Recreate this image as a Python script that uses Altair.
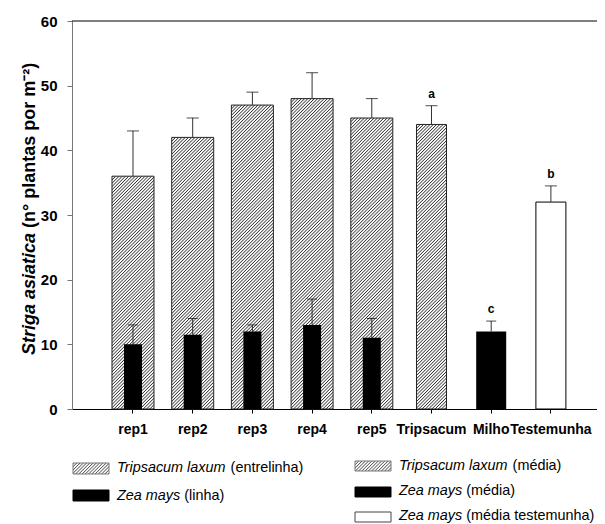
import base64
import altair as alt
import pandas as pd

# ---------------- data ----------------
categories = ["rep1", "rep2", "rep3", "rep4", "rep5", "Tripsacum", "Milho", "Testemunha"]
rep_labels = ["rep1", "rep2", "rep3", "rep4", "rep5"]
tripsacum_rep = [36, 42, 47, 48, 45]
tripsacum_rep_err = [7, 3, 2, 4, 3]
zea_rep = [10, 11.5, 12, 13, 11]
zea_rep_err = [3, 2.5, 1, 4, 3]
mean_labels = ["Tripsacum", "Milho", "Testemunha"]
mean_values = [44, 12, 32]
mean_err = [2.9, 1.6, 2.5]
mean_letters = ["a", "c", "b"]

W, H = 525, 388
YMAX = 60
FONT = "Liberation Sans"
LEG = 14.4  # legend font size


def hatch_url(w, h, spacing=2.3, sw=0.8, color="#333"):
    """Small SVG picture filled with a '/' hatch pattern, used as a bar fill."""
    svg = (
        f"<svg xmlns='http://www.w3.org/2000/svg' width='{w:.2f}' height='{h:.2f}' "
        f"viewBox='0 0 {w:.2f} {h:.2f}' preserveAspectRatio='none'>"
        f"<defs><pattern id='p' width='{spacing}' height='10' patternUnits='userSpaceOnUse' "
        f"patternTransform='rotate(45)'><rect x='0' y='0' width='{sw}' height='10' fill='{color}'/>"
        f"</pattern></defs>"
        f"<rect width='{w:.2f}' height='{h:.2f}' fill='white'/>"
        f"<rect width='{w:.2f}' height='{h:.2f}' fill='url(#p)'/></svg>"
    )
    return "data:image/svg+xml;base64," + base64.b64encode(svg.encode()).decode()


x_enc = alt.X(
    "cat:N", sort=categories,
    scale=alt.Scale(domain=categories, paddingInner=0, paddingOuter=0.397, align=0.657),
    axis=alt.Axis(title=None, labelAngle=0, labelFont=FONT, labelFontSize=14,
                  labelFontWeight="bold", labelColor="black", tickSize=4,
                  tickColor="black", domainColor="black", labelPadding=9),
)
y_scale = alt.Scale(domain=[0, YMAX], nice=False, zero=True)
y_axis = alt.Axis(title=None, values=[0, 10, 20, 30, 40, 50, 60], grid=False,
                  labelFont=FONT, labelFontSize=15, labelFontWeight="bold",
                  labelColor="black", tickSize=5, tickColor="#777",
                  domainColor="#777", labelPadding=10)


def Y(field):
    return alt.Y(field, scale=y_scale, axis=y_axis)


layers = []

# hatched bars: hatch picture + outline
hatched = list(zip(rep_labels, tripsacum_rep, [42] * 5)) + [(mean_labels[0], mean_values[0], 30)]
for lab, v, bw in hatched:
    hpx = v * H / YMAX
    df = pd.DataFrame({"cat": [lab], "v": [v], "url": [hatch_url(bw, hpx)]})
    layers.append(alt.Chart(df).mark_image(width=bw, height=hpx, align="center",
                                           baseline="top", aspect=False)
                  .encode(x=x_enc, y=Y("v:Q"), url="url:N"))
    layers.append(alt.Chart(df).mark_bar(size=bw, fill="transparent", stroke="#222",
                                         strokeWidth=1)
                  .encode(x=x_enc, y=Y("v:Q")))

# white Testemunha bar
df_white = pd.DataFrame({"cat": [mean_labels[2]], "v": [mean_values[2]]})
layers.append(alt.Chart(df_white).mark_bar(size=30, fill="white", stroke="black", strokeWidth=1)
              .encode(x=x_enc, y=Y("v:Q")))

# error bars for hatched / white
err_a = pd.DataFrame({
    "cat": rep_labels + [mean_labels[0], mean_labels[2]],
    "v": tripsacum_rep + [mean_values[0], mean_values[2]],
    "e": tripsacum_rep_err + [mean_err[0], mean_err[2]],
})
err_a["top"] = err_a["v"] + err_a["e"]
layers.append(alt.Chart(err_a).mark_rule(color="#333", strokeWidth=1)
              .encode(x=x_enc, y=Y("v:Q"), y2="top:Q"))
layers.append(alt.Chart(err_a).mark_tick(size=12, thickness=1, color="black", orient="horizontal")
              .encode(x=x_enc, y=Y("top:Q")))

# black bars
df_black = pd.DataFrame({"cat": rep_labels, "v": zea_rep})
layers.append(alt.Chart(df_black).mark_bar(size=18, color="black")
              .encode(x=x_enc, y=Y("v:Q")))
df_milho = pd.DataFrame({"cat": [mean_labels[1]], "v": [mean_values[1]]})
layers.append(alt.Chart(df_milho).mark_bar(size=30, color="black")
              .encode(x=x_enc, y=Y("v:Q")))

err_b = pd.DataFrame({
    "cat": rep_labels + [mean_labels[1]],
    "v": zea_rep + [mean_values[1]],
    "e": zea_rep_err + [mean_err[1]],
})
err_b["top"] = err_b["v"] + err_b["e"]
layers.append(alt.Chart(err_b).mark_rule(color="#333", strokeWidth=1)
              .encode(x=x_enc, y=Y("v:Q"), y2="top:Q"))
layers.append(alt.Chart(err_b).mark_tick(size=10, thickness=1, color="black", orient="horizontal")
              .encode(x=x_enc, y=Y("top:Q")))

# significance letters
df_let = pd.DataFrame({"cat": mean_labels, "top": [v + e for v, e in zip(mean_values, mean_err)],
                       "t": mean_letters})
layers.append(alt.Chart(df_let).mark_text(font=FONT, fontSize=12, fontWeight="bold",
                                          baseline="alphabetic", dy=-8, color="black")
              .encode(x=x_enc, y=Y("top:Q"), text="t:N"))

# top frame line
layers.append(alt.Chart(pd.DataFrame({"a": [0]})).mark_rule(color="black", strokeWidth=1)
              .encode(y=alt.datum(YMAX, scale=y_scale)))


def txt(s, x, y, style="normal", weight="normal", size=LEG, align="left", angle=0):
    return alt.Chart(pd.DataFrame({"t": [s]})).mark_text(
        font=FONT, fontSize=size, fontStyle=style, fontWeight=weight, align=align,
        baseline="middle", angle=angle, color="black"
    ).encode(x=alt.value(x), y=alt.value(y), text="t:N")


def swatch(x, y, w, h, fill, stroke):
    return alt.Chart(pd.DataFrame({"a": [0]})).mark_rect(
        fill=fill, stroke=stroke, strokeWidth=1
    ).encode(x=alt.value(x), x2=alt.value(x + w), y=alt.value(y), y2=alt.value(y + h))


def hatch_swatch(x, y, w, h):
    img = alt.Chart(pd.DataFrame({"url": [hatch_url(w, h, color="#555")]})).mark_image(
        width=w, height=h, align="left", baseline="top", aspect=False
    ).encode(x=alt.value(x), y=alt.value(y), url="url:N")
    return [img, swatch(x, y, w, h, "transparent", "#777")]


# offsets of the upright part after the italic species name (Arial metrics)
TRIP_W = 7.89 * LEG
ZEA_W = 4.668 * LEG

# legend (left column)
layers += hatch_swatch(1, 442, 36, 11)
layers.append(txt("Tripsacum laxum", 45, 447, style="italic"))
layers.append(txt("(entrelinha)", 45 + TRIP_W, 447))
layers.append(swatch(1, 469, 36, 11, "black", "black"))
layers.append(txt("Zea mays", 45, 475, style="italic"))
layers.append(txt("(linha)", 45 + ZEA_W, 475))
# legend (right column)
layers += hatch_swatch(283, 440, 36, 10)
layers.append(txt("Tripsacum laxum", 327, 445, style="italic"))
layers.append(txt("(média)", 327 + TRIP_W, 445))
layers.append(swatch(283, 466, 36, 10, "black", "black"))
layers.append(txt("Zea mays", 327, 470, style="italic"))
layers.append(txt("(média)", 327 + ZEA_W, 470))
layers.append(swatch(283, 491, 36, 10, "white", "#444"))
layers.append(txt("Zea mays", 327, 495, style="italic"))
layers.append(txt("(média testemunha)", 327 + ZEA_W, 495))

# y-axis title (mixed styles), reading bottom to top
layers.append(txt("Striga asiatica", -42, 334, style="italic", weight="bold", size=18,
                  align="left", angle=270))
layers.append(txt("(n° plantas por m⁻²)", -42, 207, weight="bold", size=18,
                  align="left", angle=270))

chart = alt.layer(*layers).properties(
    width=W, height=H,
    autosize=alt.AutoSizeParams(type="none"),
    padding={"left": 64, "top": 13, "right": 0, "bottom": 114},
).configure_view(stroke=None)

chart.save("out.html", embed_options={"renderer": "svg", "actions": False})
